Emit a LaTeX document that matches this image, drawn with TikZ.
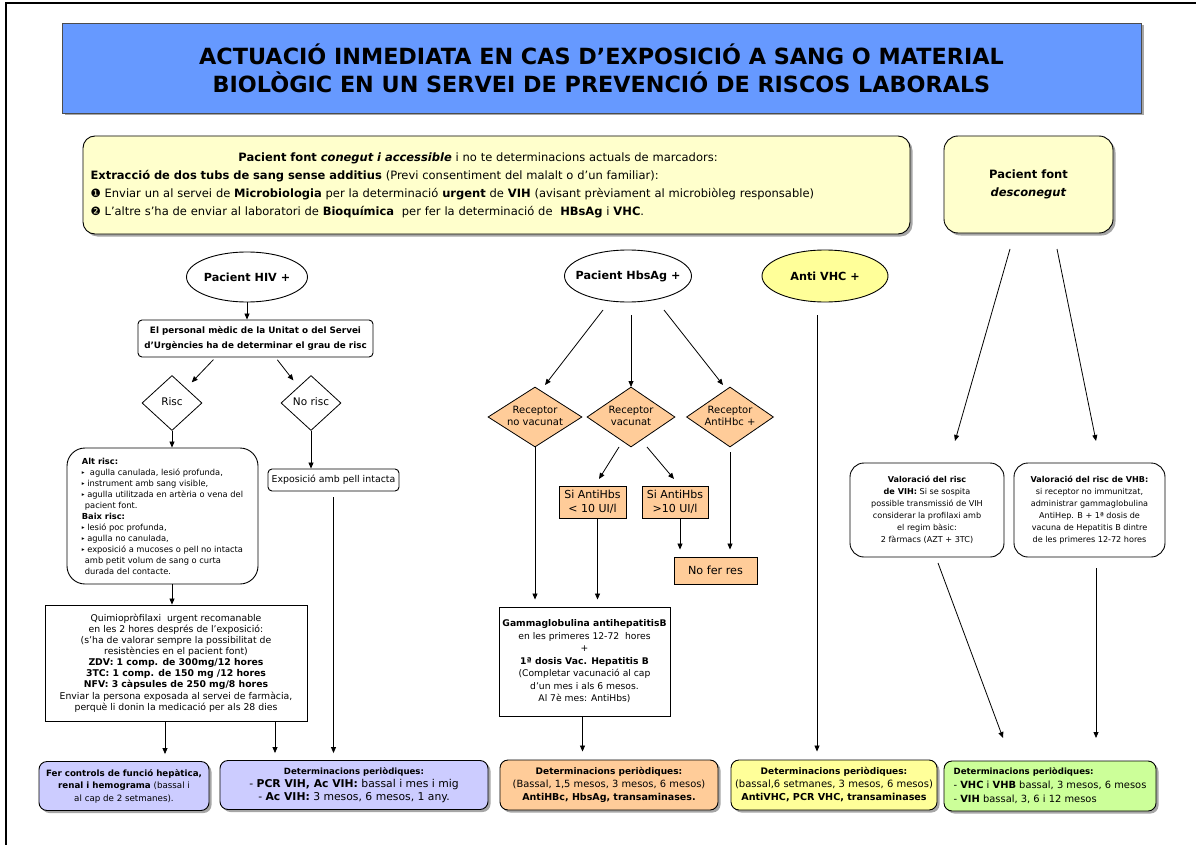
\documentclass[tikz,border=0pt]{standalone}
\usepackage{fontspec}
\setmainfont{DejaVu Sans}
\usetikzlibrary{shapes.geometric,arrows.meta,shadows}

\definecolor{titleblue}{HTML}{6699FF}
\definecolor{paleyellow}{HTML}{FFFFCC}
\definecolor{vhcyellow}{HTML}{FFFF99}
\definecolor{recorange}{HTML}{FFCC99}
\definecolor{lavender}{HTML}{CCCCFF}
\definecolor{palegreen}{HTML}{CCFF99}

\newcommand{\fsz}[2]{\fontsize{#1}{#2}\selectfont}
\newcommand{\altbullet}{\raisebox{0.15ex}{\fontsize{5.5}{5}\selectfont ▸}}
% text that does not widen its shape
\newcommand{\diamtext}[1]{\smash{\raisebox{-0.25em}{\makebox[0pt]{\begin{tabular}{@{}c@{}}#1\end{tabular}}}}}

\tikzset{
  box/.style={draw, line width=0.9pt, inner sep=1pt, align=center},
  roundbox/.style={box, rounded corners=#1},
  roundbox/.default=4pt,
  shade box/.style={drop shadow={shadow xshift=2.5pt, shadow yshift=-2.5pt, fill=black, opacity=.35}},
  oval/.style={ellipse, draw, line width=0.9pt, inner sep=0pt, font=\fsz{11.2}{12}\bfseries},
  choice/.style={diamond, draw, line width=0.8pt, inner sep=0pt, align=center},
  arr/.style={-{Triangle[length=6pt,width=5pt]}, line width=0.8pt},
}

\begin{document}
\begin{tikzpicture}[x=1pt,y=-1pt]
\useasboundingbox (0,0) rectangle (1196,845);
% page frame
\draw[line width=1.2pt] (6,845) -- (6,3) -- (1196,3);

% title
\node[box, fill=titleblue, draw=black!70, shade box, minimum width=1079pt, minimum height=90pt, font=\fsz{22.3}{28}\bfseries] (title) at (601.5,68) {ACTUACIÓ INMEDIATA EN CAS D'EXPOSICIÓ A SANG O MATERIAL\\BIOLÒGIC EN UN SERVEI DE PREVENCIÓ DE RISCOS LABORALS};

% source patients
\node[roundbox=12pt, fill=paleyellow, shade box, minimum width=827pt, minimum height=98pt, text width=812pt, align=left, font=\fsz{11.5}{18}] (known) at (496.5,185) {\makebox[775pt][c]{\textbf{Pacient font \textit{conegut i accessible}} i no te determinacions actuals de marcadors:}\\
\textbf{Extracció de dos tubs de sang sense additius} (Previ consentiment del malalt o d'un familiar):\\
❶ Enviar un al servei de \textbf{Microbiologia} per la determinació \textbf{urgent} de \textbf{VIH} (avisant prèviament al microbiòleg responsable)\\
❷ L'altre s'ha de enviar al laboratori de \textbf{Bioquímica}\ \ per fer la determinació de\ \ \textbf{HBsAg} i \textbf{VHC}.};
\node[roundbox=14pt, fill=paleyellow, shade box, minimum width=169pt, minimum height=97pt, font=\fsz{11.5}{18}\bfseries] (unknown) at (1028.5,184.5) {Pacient font\\\textit{desconegut}};

% HIV branch
\node[oval, minimum width=121pt, minimum height=50pt] (hiv) at (247,277) {\makebox[0pt]{Pacient HIV +}};
\node[roundbox=4pt, minimum width=235pt, minimum height=37pt, font=\fsz{8.8}{14.5}\bfseries] (personal) at (255.5,338.5) {El personal mèdic de la Unitat o del Servei\\d'Urgències ha de determinar el grau de risc};
\node[choice, minimum width=60pt, minimum height=55pt, font=\fsz{10.5}{11}] (risc) at (172,403) {\diamtext{Risc}};
\node[choice, minimum width=60pt, minimum height=55pt, font=\fsz{10.5}{11}] (norisc) at (311,403) {\diamtext{No risc}};
\node[roundbox=18pt, minimum width=191pt, minimum height=136pt, align=left, font=\fsz{8.3}{11}] (altrisc) at (162.5,516) {\textbf{Alt risc:}\\
\altbullet\ \ agulla canulada, lesió profunda,\\
\altbullet\ instrument amb sang visible,\\
\altbullet\ agulla utilitzada en artèria o vena del\\
\hspace{3pt}pacient font.\\
\textbf{Baix risc:}\\
\altbullet\ lesió poc profunda,\\
\altbullet\ agulla no canulada,\\
\altbullet\ exposició a mucoses o pell no intacta\\
\hspace{3pt}amb petit volum de sang o curta\\
\hspace{3pt}durada del contacte.};
\node[roundbox=4pt, minimum width=131pt, minimum height=22pt, font=\fsz{9.4}{11}] (exposicio) at (333.5,480) {Exposició amb pell intacta};
\node[box, minimum width=262pt, minimum height=116pt, font=\fsz{9.3}{11.1}] (quimio) at (176,663) {Quimiopròfilaxi\ \ urgent recomanable\\en les 2 hores després de l'exposició:\\(s'ha de valorar sempre la possibilitat de\\resistències en el pacient font)\\\textbf{ZDV: 1 comp. de 300mg/12 hores}\\\textbf{3TC: 1 comp. de 150 mg /12 hores}\\\textbf{NFV: 3 càpsules de 250 mg/8 hores}\\Enviar la persona exposada al servei de farmàcia,\\perquè li donin la medicació per als 28 dies};
\node[roundbox=8pt, fill=lavender, shade box, minimum width=170pt, minimum height=49pt, font=\fsz{8.7}{12.5}] (ctrlhep) at (124,786) {\textbf{Fer controls de funció hepàtica,}\\\textbf{renal i hemograma} (bassal i\\al cap de 2 setmanes).};
\node[roundbox=8pt, fill=lavender, shade box, minimum width=268pt, minimum height=49pt, font=\fsz{10.8}{13}] (detvih) at (354,785) {{\fsz{8.6}{13}\textbf{Determinacions periòdiques:}}\\- \textbf{PCR VIH, Ac VIH:} bassal i mes i mig\\- \textbf{Ac VIH:} 3 mesos, 6 mesos, 1 any.};

% HBsAg branch
\node[oval, minimum width=127pt, minimum height=52pt] (hbsag) at (628,276) {\makebox[0pt]{Pacient HbsAg +}};
\node[choice, fill=recorange, minimum width=94pt, minimum height=60pt, font=\fsz{10}{12}] (novac) at (535,417) {\diamtext{Receptor\\no vacunat}};
\node[choice, fill=recorange, minimum width=88pt, minimum height=60pt, font=\fsz{10}{12}] (vac) at (631,417) {\diamtext{Receptor\\vacunat}};
\node[choice, fill=recorange, minimum width=87pt, minimum height=60pt, font=\fsz{10}{12}] (antihbc) at (730,417) {\diamtext{Receptor\\AntiHbc +}};
\node[box, fill=recorange, minimum width=67pt, minimum height=32pt, font=\fsz{11}{13.5}] (lowab) at (592.5,502) {Si AntiHbs\\< 10 UI/l};
\node[box, fill=recorange, minimum width=66pt, minimum height=32pt, font=\fsz{11}{13.5}] (highab) at (675,502) {Si AntiHbs\\>10 UI/l};
\node[box, fill=recorange, minimum width=83pt, minimum height=27pt, font=\fsz{11.2}{13}] (nofer) at (715.5,570.5) {No fer res};
\node[box, minimum width=171pt, minimum height=109pt, font=\fsz{9.2}{12.5}] (gamma) at (584.5,661.5) {\textbf{Gammaglobulina antihepatitisB}\\en les primeres 12-72\ \ hores\\+\\\textbf{1ª dosis Vac. Hepatitis B}\\(Completar vacunació al cap\\d'un mes i als 6 mesos.\\Al 7è mes: AntiHbs)};
\node[roundbox=8pt, fill=recorange, shade box, minimum width=218pt, minimum height=50pt, font=\fsz{9.9}{13}] (dethb) at (609,785) {{\fsz{9}{13}\textbf{Determinacions periòdiques:}}\\(Bassal, 1,5 mesos, 3 mesos, 6 mesos)\\{\fsz{9.5}{13}\textbf{AntiHBc, HbsAg, transaminases.}}};

% HCV branch
\node[oval, fill=vhcyellow, minimum width=126pt, minimum height=52pt] (antivhc) at (825,276) {\makebox[0pt]{Anti VHC +}};
\node[roundbox=8pt, fill=vhcyellow, shade box, minimum width=206pt, minimum height=50pt, font=\fsz{10}{13}] (detvhc) at (834,785) {{\fsz{9}{13}\textbf{Determinacions periòdiques:}}\\(bassal,6 setmanes, 3 mesos, 6 mesos)\\{\fsz{9.6}{13}\textbf{AntiVHC, PCR VHC, transaminases}}};

% unknown source
\node[roundbox=14pt, minimum width=154pt, minimum height=94pt, font=\fsz{8.1}{12}] (valvih) at (927,510) {\textbf{Valoració del risc}\\\textbf{de VIH:} Si se sospita\\possible transmissió de VIH\\considerar la profilaxi amb\\el regim bàsic:\\2 fàrmacs (AZT + 3TC)};
\node[roundbox=14pt, minimum width=151pt, minimum height=94pt, font=\fsz{8.1}{12}] (valvhb) at (1089.5,510) {\textbf{Valoració del risc de VHB:}\\si receptor no immunitzat,\\administrar gammaglobulina\\AntiHep. B + 1ª dosis de\\vacuna de Hepatitis B dintre\\de les primeres 12-72 hores};
\node[roundbox=8pt, fill=palegreen, shade box, minimum width=212pt, minimum height=50pt, align=left, font=\fsz{9.9}{14}] (detunk) at (1050,786) {{\fsz{8.6}{14}\textbf{Determinacions periòdiques:}}\\- \textbf{VHC} i \textbf{VHB} bassal, 3 mesos, 6 mesos\\- \textbf{VIH} bassal, 3, 6 i 12 mesos};

% connectors, HIV
\draw[arr] (hiv.south) -- (hiv.south |- personal.north);
\draw[arr, shorten <=3pt, shorten >=8pt] ([shift={(-40,0)}]personal.south) -- (risc);
\draw[arr, shorten <=3pt, shorten >=8pt] ([shift={(20,0)}]personal.south) -- (norisc);
\draw[arr] (risc) -- (risc |- altrisc.north);
\draw[arr] (norisc) -- (norisc |- exposicio.north);
\draw[arr] (altrisc.south -| risc) -- (quimio.north -| risc);
\coordinate (q1) at ([shift={(-11,0)}]quimio.south);
\coordinate (q2) at ([shift={(99,0)}]quimio.south);
\draw[arr, shorten >=7pt] (q1) -- (q1 |- ctrlhep.north);
\draw[arr, shorten >=7pt] (q2) -- (q2 |- detvih.north);
\draw[arr, shorten <=6pt, shorten >=7pt] (exposicio.south) -- (exposicio.south |- detvih.north);

% connectors, HBsAg
\draw[arr] ([shift={(-25,34)}]hbsag.center) -- ([shift={(10,-32)}]novac.center);
\draw[arr] ([shift={(3,39)}]hbsag.center) -- ([shift={(0,-30)}]vac.center);
\draw[arr] ([shift={(36,34)}]hbsag.center) -- ([shift={(-7,-32)}]antihbc.center);
\draw[arr] ([shift={(-12,30)}]vac.center) -- ([shift={(6.5,-23)}]lowab.center);
\draw[arr] ([shift={(16,30)}]vac.center) -- ([shift={(-1,-23)}]highab.center);
\draw[arr, shorten >=7pt] (novac) -- (novac |- gamma.north);
\coordinate (l1) at ([shift={(5,0)}]lowab.south);
\coordinate (h1) at ([shift={(5,0)}]highab.south);
\coordinate (g1) at ([shift={(-2,0)}]gamma.south);
\draw[arr, shorten >=7pt] (l1) -- (l1 |- gamma.north);
\draw[arr, shorten >=7pt] (h1) -- (h1 |- nofer.north);
\draw[arr, shorten <=5pt, shorten >=7pt] (antihbc) -- (antihbc |- nofer.north);
\draw[arr, shorten >=8pt] (g1) -- (g1 |- dethb.north);

% connectors, HCV and unknown source
\coordinate (v1) at ([shift={(-8,39)}]antivhc.center);
\draw[arr, shorten >=8pt] (v1) -- (v1 |- detvhc.north);
\draw[arr] ([shift={(-18.5,64.5)}]unknown.center) -- ([shift={(28,-69)}]valvih.center);
\draw[arr] ([shift={(28.5,64.5)}]unknown.center) -- ([shift={(6.5,-69)}]valvhb.center);
\draw[arr] ([shift={(11,53)}]valvih.center) -- ([shift={(-47,-48)}]detunk.center);
\draw[arr] ([shift={(6.5,58)}]valvhb.center) -- ([shift={(46,-48)}]detunk.center);
\end{tikzpicture}
\end{document}
